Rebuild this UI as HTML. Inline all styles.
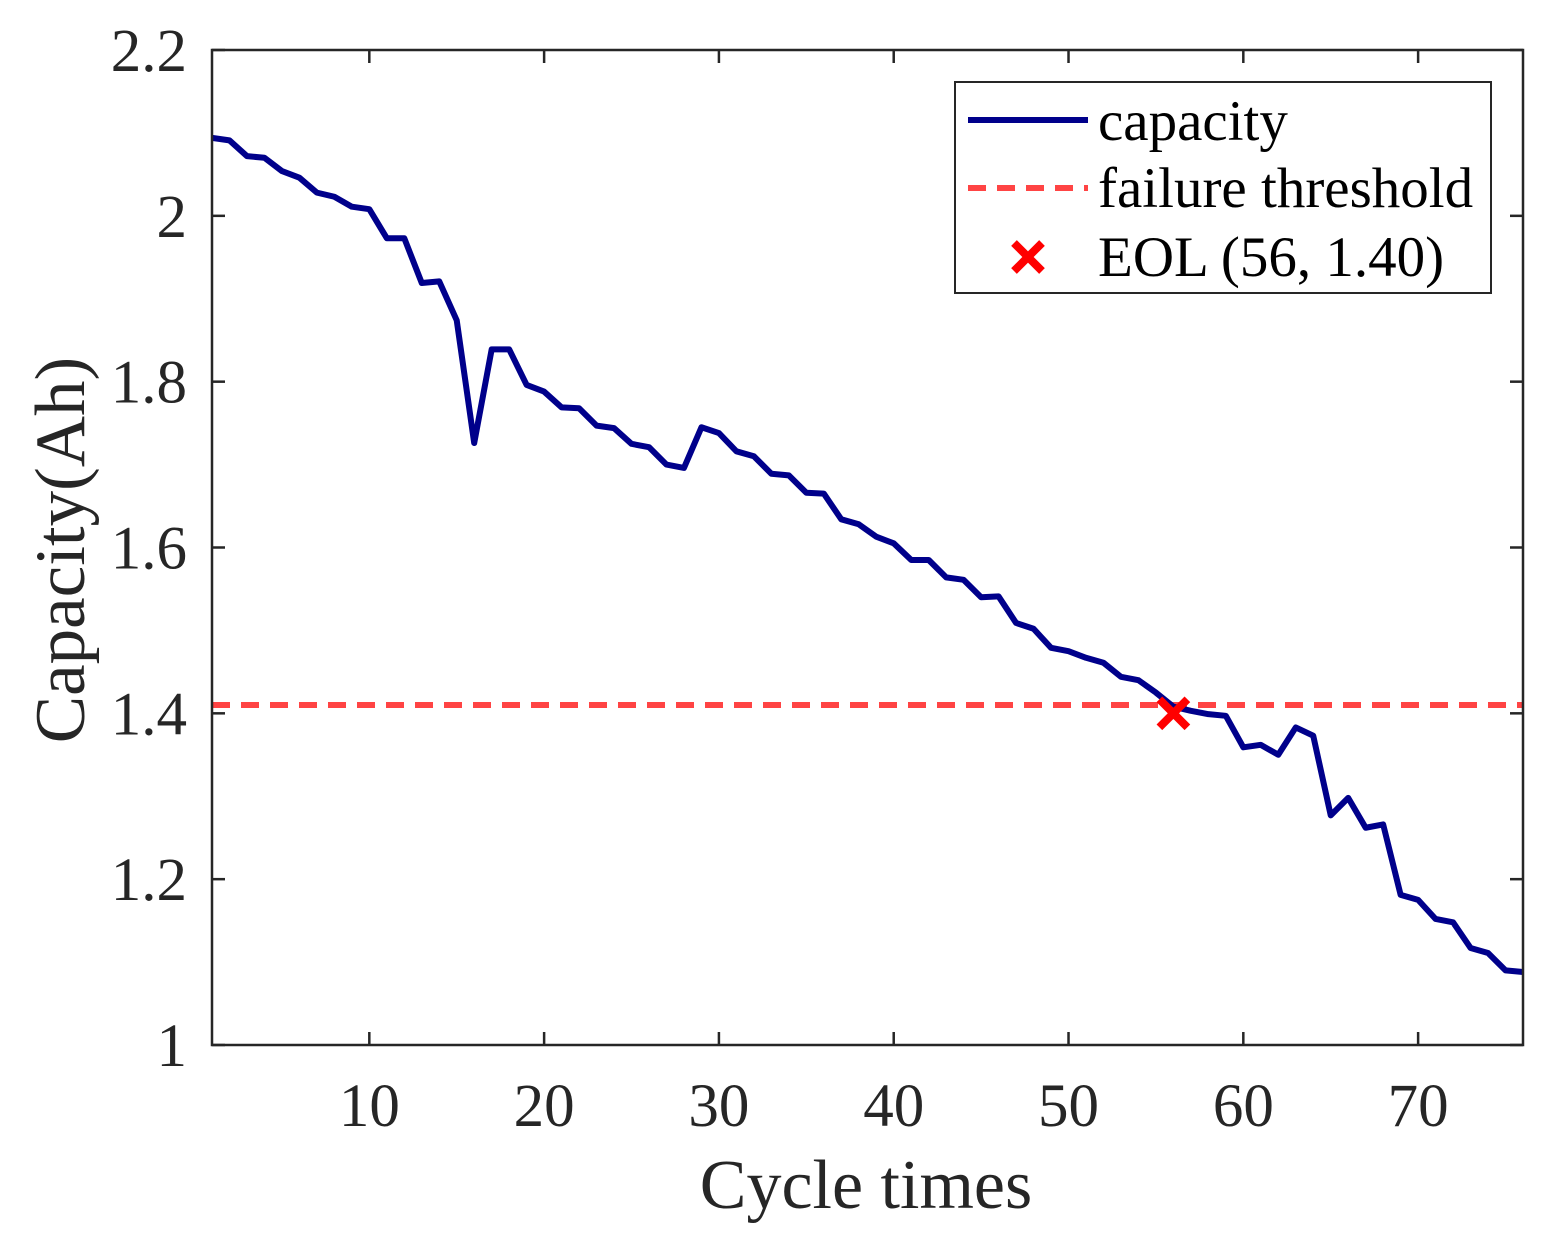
<!DOCTYPE html>
<html><head><meta charset="utf-8"><style>
html,body{margin:0;padding:0;background:#fff;}
svg{display:block;font-family:"Liberation Serif",serif;}
</style></head><body>
<svg id="chart" width="1554" height="1248" viewBox="0 0 1554 1248" xmlns="http://www.w3.org/2000/svg">
<rect x="0" y="0" width="1554" height="1248" fill="#fff"/>
<g id="series"></g>
<rect x="212" y="50" width="1311" height="995" fill="none" stroke="#262626" stroke-width="2.5"/>
<g id="ticks"></g>
<text x="866" y="1208" text-anchor="middle" font-size="70" fill="#262626">Cycle times</text>
<text transform="translate(84,550) rotate(-90)" text-anchor="middle" font-size="71" fill="#262626">Capacity(Ah)</text>
<g>
<rect x="955" y="82" width="536" height="211" fill="#fff" stroke="#262626" stroke-width="2"/>
<line x1="968" y1="120" x2="1088" y2="120" stroke="#00008B" stroke-width="6"/>
<text x="1098" y="140" font-size="57" fill="#000">capacity</text>
<line x1="968" y1="188" x2="1088" y2="188" stroke="#FF4444" stroke-width="6" stroke-dasharray="18,11"/>
<text x="1098" y="207" font-size="57" fill="#000">failure threshold</text>
<g stroke="#FF0000" stroke-width="8"><line x1="1014" y1="243" x2="1042" y2="271"/><line x1="1042" y1="243" x2="1014" y2="271"/></g>
<text x="1098" y="276" font-size="57" fill="#000">EOL (56, 1.40)</text>
</g>
</svg>
<script>
const cycles = Array.from({length:76},(_,i)=>i+1);
const capacity = [2.094,2.091,2.072,2.07,2.054,2.046,2.028,2.023,2.011,2.008,1.973,1.973,1.919,1.921,1.874,1.726,1.839,1.839,1.796,1.788,1.769,1.768,1.747,1.744,1.725,1.721,1.700,1.696,1.745,1.738,1.716,1.710,1.689,1.687,1.666,1.665,1.634,1.628,1.613,1.605,1.585,1.585,1.564,1.561,1.540,1.541,1.509,1.502,1.479,1.475,1.467,1.461,1.444,1.440,1.425,1.408,1.403,1.399,1.397,1.359,1.362,1.350,1.383,1.373,1.277,1.298,1.262,1.266,1.181,1.175,1.152,1.148,1.117,1.111,1.090,1.088];
const threshold = [1.41];
const eolPoint = [56, 1.40];
const xTicks = [10,20,30,40,50,60,70];
const yTicks = [1,1.2,1.4,1.6,1.8,2,2.2];
const yTickLabels = ["1","1.2","1.4","1.6","1.8","2","2.2"];

const X0=212,X1=1523,Y0=1045,Y1=50;
const xs=v=>X0+(v-1)/(76-1)*(X1-X0);
const ys=v=>Y0-(v-1)/(2.2-1)*(Y0-Y1);
const NS="http://www.w3.org/2000/svg";
const mk=(t,a,p)=>{const e=document.createElementNS(NS,t);for(const k in a)e.setAttribute(k,a[k]);p.appendChild(e);return e;};
const ticks=document.getElementById('ticks'), ser=document.getElementById('series');
xTicks.forEach(t=>{const x=xs(t);
 const l=mk('line',{x1:x,y1:Y0,x2:x,y2:Y0-13,stroke:'#262626','stroke-width':2.5},ticks);
 
 
 const l2=mk('line',{x1:x,y1:Y1,x2:x,y2:Y1+13,stroke:'#262626','stroke-width':2.5},ticks);
 
 
 const tx=mk('text',{x:x,y:1126,'text-anchor':'middle','font-size':61,fill:'#262626'},ticks);tx.textContent=t;
 
 
});
yTicks.forEach((t,i)=>{const y=ys(t);
 const l=mk('line',{x1:X0,y1:y,x2:X0+13,y2:y,stroke:'#262626','stroke-width':2.5},ticks);
 
 
 const l2=mk('line',{x1:X1,y1:y,x2:X1-13,y2:y,stroke:'#262626','stroke-width':2.5},ticks);
 
 
 const tx=mk('text',{x:187,y:y+21,'text-anchor':'end','font-size':61,fill:'#262626'},ticks);tx.textContent=yTickLabels[i];
 
 
});
const th=mk('line',{x1:X0,y1:ys(threshold[0]),x2:X1,y2:ys(threshold[0]),stroke:'#FF4444','stroke-width':6,'stroke-dasharray':'18,11'},ser);


const pl=mk('polyline',{points:cycles.map((c,i)=>xs(c)+','+ys(capacity[i])).join(' '),fill:'none',stroke:'#00008B','stroke-width':6,'stroke-linejoin':'round'},ser);


const ex=xs(eolPoint[0]),ey=ys(eolPoint[1]);
const g=mk('g',{stroke:'#FF0000','stroke-width':8},ser);


mk('line',{x1:ex-14,y1:ey-14,x2:ex+14,y2:ey+14},g);
mk('line',{x1:ex+14,y1:ey-14,x2:ex-14,y2:ey+14},g);
</script>
</body></html>
